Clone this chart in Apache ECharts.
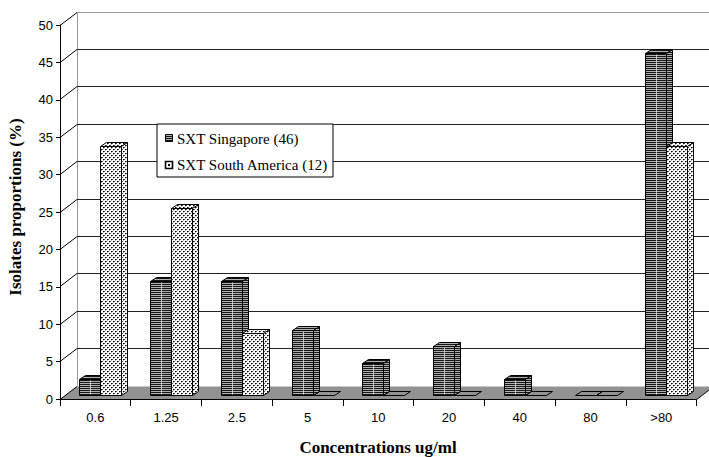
<!DOCTYPE html>
<html><head><meta charset="utf-8">
<script src="https://cdn.jsdelivr.net/npm/echarts@6/dist/echarts.min.js"></script>
<style>html,body{margin:0;padding:0;background:#fff}#c{width:709px;height:457px}</style>
</head><body><div id="c"></div>
<script>
// ---- data ----
const categories = ['0.6', '1.25', '2.5', '5', '10', '20', '40', '80', '>80'];
const singapore = [2.2, 15.2, 15.2, 8.7, 4.3, 6.5, 2.2, 0, 45.7];
const southAmerica = [33.3, 25.0, 8.3, 0, 0, 0, 0, 0, 33.3];
const yTickValues = [0, 5, 10, 15, 20, 25, 30, 35, 40, 45, 50];
const seriesNames = ['SXT Singapore (46)', 'SXT South America (12)'];
const yTitle = 'Isolates proportions (%)';
const xTitle = 'Concentrations ug/ml';

// ---- styling helpers ----
function makePattern(w, h, draw) {
  const c = document.createElement('canvas');
  c.width = w; c.height = h;
  const ctx = c.getContext('2d');
  draw(ctx);
  return { image: c.toDataURL(), repeat: 'repeat', imageWidth: w, imageHeight: h };
}
const stripes = makePattern(1, 2, ctx => {
  ctx.fillStyle = '#151515'; ctx.fillRect(0, 0, 1, 1);
  ctx.fillStyle = '#b0b0b0'; ctx.fillRect(0, 1, 1, 1);
});
const dots = makePattern(4, 4, ctx => {
  ctx.fillStyle = '#ffffff'; ctx.fillRect(0, 0, 4, 4);
  ctx.fillStyle = '#000000'; ctx.fillRect(1, 1, 1, 1); ctx.fillRect(3, 3, 1, 1);
  ctx.fillStyle = '#555555'; ctx.fillRect(2, 1, 1, 1); ctx.fillRect(0, 3, 1, 1);
  ctx.fillStyle = '#b5b5b5'; ctx.fillRect(1, 2, 1, 1); ctx.fillRect(3, 0, 1, 1);
});

const WALL_DX = 17, WALL_DY = -13;
const BAR_DX = 6, BAR_DY = -4;
const crisp = v => Math.round(v - 0.5) + 0.5;

function line(x1, y1, x2, y2, color) {
  return { type: 'line', shape: { x1, y1, x2, y2 }, style: { stroke: color, lineWidth: 1 } };
}
function poly(points, fill, stroke) {
  return { type: 'polygon', shape: { points }, style: { fill: fill, stroke: stroke || null, lineWidth: 1 } };
}

function renderBackground(params, api) {
  const cs = params.coordSys;
  const left = cs.x, right = cs.x + cs.width;
  const y0 = crisp(api.coord([0, 0])[1]);
  const ch = [];
  ch.push(poly([[left, y0], [right, y0], [right + WALL_DX, y0 + WALL_DY], [left + WALL_DX, y0 + WALL_DY]], '#929292'));
  const yTop = crisp(api.coord([0, yTickValues[yTickValues.length - 1]])[1]);
  ch.push(line(crisp(left + WALL_DX), y0 + WALL_DY, crisp(left + WALL_DX), yTop + WALL_DY, '#9a9a9a'));
  yTickValues.forEach((v, k) => {
    const yf = crisp(api.coord([0, v])[1]);
    if (v !== 0) ch.push(line(left + WALL_DX, yf + WALL_DY, 709, yf + WALL_DY, k === yTickValues.length - 1 ? '#9a9a9a' : '#222'));
    ch.push(line(left, yf, left + WALL_DX, yf + WALL_DY, '#000'));
  });
  ch.push(line(right, y0, right + WALL_DX, y0 + WALL_DY, '#000'));
  ch.push(line(left, y0, right, y0, '#000'));
  return { type: 'group', children: ch };
}

function box(ch, xl, xr, yb, yt, fill, highlight) {
  if (yb - yt < 0.5) {
    ch.push(poly([[xl, yb], [xr, yb], [xr + BAR_DX, yb + BAR_DY], [xl + BAR_DX, yb + BAR_DY]], null, '#000'));
    return;
  }
  ch.push({ type: 'rect', shape: { x: xl, y: yt, width: xr - xl, height: yb - yt }, style: { fill: fill, stroke: '#000', lineWidth: 1 } });
  if (highlight) {
    const hx = crisp((xl + xr) / 2);
    ch.push(line(hx, yt + 1, hx, yb - 1, 'rgba(235,235,235,0.75)'));
  }
  ch.push(poly([[xl, yt], [xr, yt], [xr + BAR_DX, yt + BAR_DY], [xl + BAR_DX, yt + BAR_DY]], fill, '#000'));
  ch.push(poly([[xr, yt], [xr + BAR_DX, yt + BAR_DY], [xr + BAR_DX, yb + BAR_DY], [xr, yb]], fill, '#000'));
}

function renderBars(params, api) {
  const i = api.value(0);
  const band = api.size([1, 0])[0];
  const cx = api.coord([i, 0])[0];
  const yb = crisp(api.coord([i, 0])[1] - 3.5);
  const w = band * 0.297;
  const split = crisp(cx + band * 0.078);
  const xl = crisp(split - w), xr = crisp(split + w);
  const yS = crisp(api.coord([i, api.value(1)])[1] - 3.5);
  const yA = crisp(api.coord([i, api.value(2)])[1] - 3.5);
  const ch = [];
  box(ch, xl, split, yb, yS, stripes, true);
  box(ch, split, xr, yb, yA, dots, false);
  return { type: 'group', children: ch };
}

const barData = categories.map((c, i) => [i, singapore[i], southAmerica[i]]);

const chart = echarts.init(document.getElementById('c'), null, { renderer: 'svg' });
chart.setOption({
  animation: false,
  backgroundColor: '#fff',
  grid: { left: 60, right: 12.3, top: 25, bottom: 58, containLabel: false },
  xAxis: {
    type: 'category', data: categories, boundaryGap: true,
    axisLine: { show: true, lineStyle: { color: '#000', width: 1 } },
    axisTick: { show: true, length: 7, lineStyle: { color: '#000' } },
    axisLabel: { color: '#000', fontFamily: 'Liberation Sans', fontSize: 13, margin: 12 },
    splitLine: { show: false }
  },
  yAxis: {
    type: 'value', min: 0, max: 50, interval: 5,
    axisLine: { show: true, lineStyle: { color: '#000', width: 1 } },
    axisTick: { show: true, length: 4, lineStyle: { color: '#000' } },
    axisLabel: { color: '#000', fontFamily: 'Liberation Sans', fontSize: 13, margin: 7 },
    splitLine: { show: false }
  },
  series: [
    { type: 'custom', name: 'wall', renderItem: renderBackground, data: [[0, 0]], z: 1, silent: true, clip: false },
    { type: 'custom', name: 'bars', renderItem: renderBars, data: barData, encode: { x: 0, y: [1, 2] }, z: 3, clip: false }
  ],
  graphic: [
    { type: 'rect', left: 156.5, top: 123.5, shape: { width: 176, height: 53 }, style: { fill: '#fff', stroke: '#000', lineWidth: 1 }, z: 10 },
    { type: 'rect', shape: { x: 165.5, y: 134.5, width: 7, height: 7 }, style: { fill: stripes, stroke: '#000', lineWidth: 1 }, z: 11 },
    { type: 'rect', shape: { x: 165.5, y: 161.5, width: 7, height: 7 }, style: { fill: '#fff', stroke: '#000', lineWidth: 1.6 }, z: 11 },
    { type: 'rect', shape: { x: 168, y: 164, width: 2, height: 2 }, style: { fill: '#000' }, z: 11 },
    { type: 'text', x: 177, y: 138.5, style: { text: seriesNames[0], fill: '#000', font: '15px "Liberation Serif"', verticalAlign: 'middle' }, z: 11 },
    { type: 'text', x: 177, y: 165, style: { text: seriesNames[1], fill: '#000', font: '15px "Liberation Serif"', verticalAlign: 'middle' }, z: 11 },
    { type: 'text', x: 15, y: 207, rotation: Math.PI / 2, style: { text: yTitle, fill: '#000', font: 'bold 17px "Liberation Serif"', align: 'center', verticalAlign: 'middle' }, z: 11 },
    { type: 'text', x: 378, y: 447, style: { text: xTitle, fill: '#000', font: 'bold 17px "Liberation Serif"', align: 'center', verticalAlign: 'middle' }, z: 11 }
  ]
});
</script></body></html>
